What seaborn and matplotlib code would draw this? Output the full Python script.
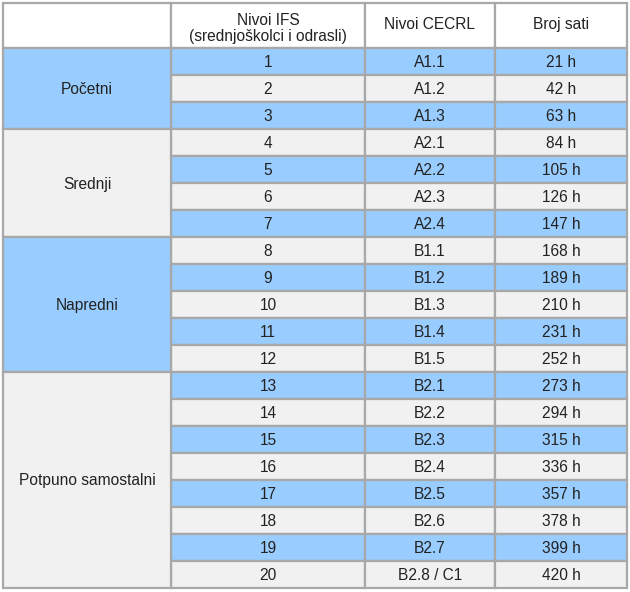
import matplotlib
matplotlib.use("Agg")
import matplotlib.pyplot as plt
from matplotlib.patches import Rectangle
import seaborn as sns

# table content
header = ["", "Nivoi IFS\n(srednjoškolci i odrasli)", "Nivoi CECRL", "Broj sati"]
groups = ["Početni", "Srednji", "Napredni", "Potpuno samostalni"]
group_sizes = [3, 4, 5, 8]
ifs_levels = [str(i) for i in range(1, 21)]
cecrl_levels = ["A1.1", "A1.2", "A1.3", "A2.1", "A2.2", "A2.3", "A2.4",
                "B1.1", "B1.2", "B1.3", "B1.4", "B1.5",
                "B2.1", "B2.2", "B2.3", "B2.4", "B2.5", "B2.6", "B2.7", "B2.8 / C1"]
hours = [21, 42, 63, 84, 105, 126, 147, 168, 189, 210, 231, 252,
         273, 294, 315, 336, 357, 378, 399, 420]

sns.set_style("white")
plt.rcParams['font.family'] = ['Liberation Sans', 'DejaVu Sans']

BLUE = "#99ccff"
GRAY = "#f1f1f1"
LINE = "#a8a8a8"
TXT = "#222222"

col_x = [3, 171, 365, 495, 627]
head_top, head_bot = 3, 48
row_h = 27

fig = plt.figure(figsize=(6.30, 5.92), dpi=100)
ax = fig.add_axes([0, 0, 1, 1])
ax.set_xlim(0, 630)
ax.set_ylim(592, 0)
ax.axis("off")


def cell(x0, x1, y0, y1, color, text, dy=1, **kw):
    ax.add_patch(Rectangle((x0, y0), x1 - x0, y1 - y0, facecolor=color,
                           edgecolor=LINE, linewidth=1.6))
    ax.text((x0 + x1) / 2, (y0 + y1) / 2 + dy, text, ha="center", va="center",
            fontsize=11.2, color=TXT, linespacing=1.15, **kw)


# header
for c in range(4):
    cell(col_x[c], col_x[c + 1], head_top, head_bot, "white", header[c],
         dy=3 if c == 1 else -1)

# data rows
for i in range(len(hours)):
    y0 = head_bot + i * row_h
    color = BLUE if i % 2 == 0 else GRAY
    vals = [ifs_levels[i], cecrl_levels[i], f"{hours[i]} h"]
    for c in range(3):
        cell(col_x[c + 1], col_x[c + 2], y0, y0 + row_h, color, vals[c])

# group cells
start = 0
for g, (name, n) in enumerate(zip(groups, group_sizes)):
    y0 = head_bot + start * row_h
    y1 = y0 + n * row_h
    cell(col_x[0], col_x[1], y0, y1, BLUE if g % 2 == 0 else GRAY, name)
    start += n

fig.savefig("out.png", dpi=100)
